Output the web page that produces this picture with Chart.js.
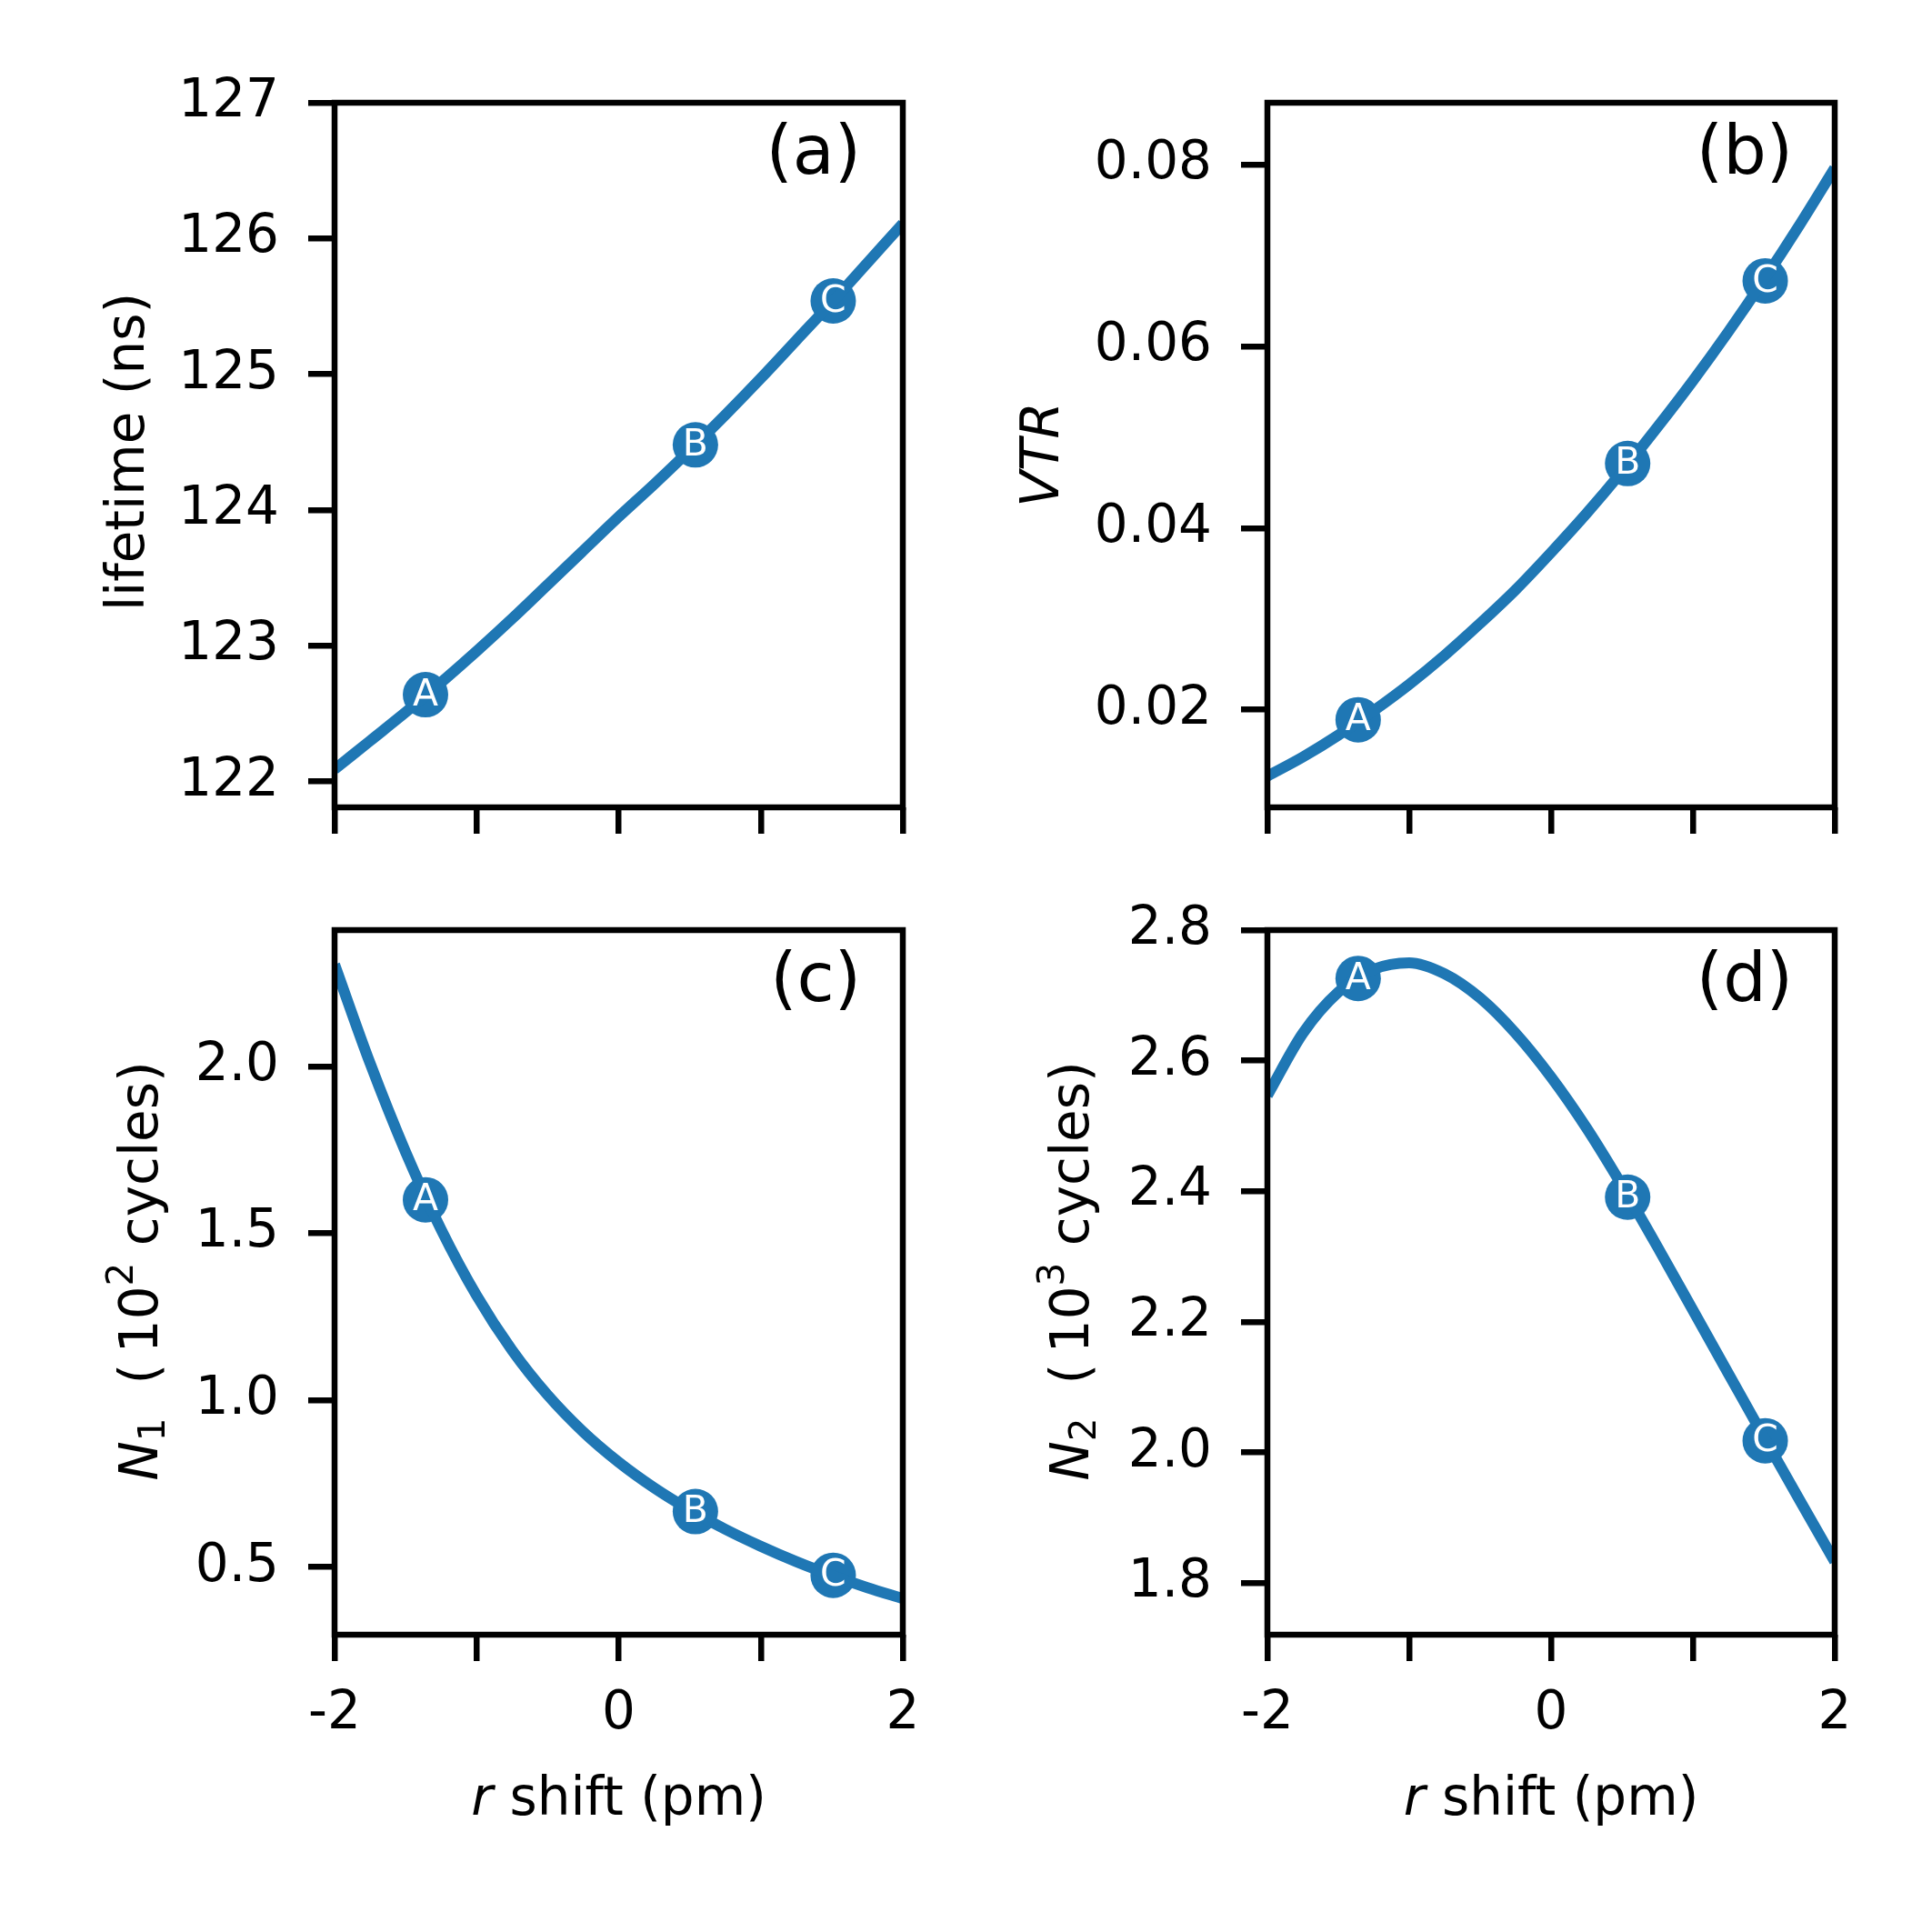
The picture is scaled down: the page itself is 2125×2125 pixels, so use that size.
<!DOCTYPE html>
<html>
<head>
<meta charset="utf-8">
<script src="https://cdn.jsdelivr.net/npm/chart.js@4.4.1/dist/chart.umd.min.js"></script>
<style>
  html, body { margin: 0; padding: 0; background: #fff; }
  #wrap { position: relative; width: 2125px; height: 2125px; }
  #wrap canvas { position: absolute; left: 0; top: 0; }
</style>
</head>
<body>
<div id="wrap">
  <canvas id="panelA" width="2125" height="2125"></canvas>
  <canvas id="panelB" width="2125" height="2125"></canvas>
  <canvas id="panelC" width="2125" height="2125"></canvas>
  <canvas id="panelD" width="2125" height="2125"></canvas>
</div>
<script>
// values
const rShift = [-2, -1.75, -1.5, -1.25, -1, -0.75, -0.5, -0.25, 0, 0.25, 0.5, 0.75, 1, 1.25, 1.5, 1.75, 2];
const lifetimeNs = [122.09, 122.30, 122.51, 122.73, 122.96, 123.20, 123.45, 123.70, 123.95, 124.19, 124.44, 124.70, 124.97, 125.25, 125.53, 125.82, 126.11];
const vtr = [0.0127, 0.0148, 0.0172, 0.0199, 0.0228, 0.0260, 0.0295, 0.0332, 0.0373, 0.0416, 0.0462, 0.0511, 0.0562, 0.0616, 0.0673, 0.0733, 0.0796];
const n1Cycles = [2.305, 2.009, 1.743, 1.511, 1.313, 1.149, 1.015, 0.905, 0.814, 0.737, 0.671, 0.613, 0.562, 0.516, 0.475, 0.438, 0.405];
const n2Cycles = [2.547, 2.642, 2.705, 2.740, 2.750, 2.733, 2.696, 2.642, 2.575, 2.497, 2.409, 2.315, 2.218, 2.121, 2.024, 1.928, 1.833];

// the three marked operating points
const markerNames = ['A', 'B', 'C'];
const markerShift = [-1.36, 0.54, 1.51];
const markerLifetime = [122.64, 124.48, 125.54];
const markerVtr = [0.0189, 0.0471, 0.0672];
const markerN1 = [1.600, 0.666, 0.475];
const markerN2 = [2.726, 2.391, 2.018];

// ticks
const xTicks = [-2, -1, 0, 1, 2];
const lifetimeTicks = [122, 123, 124, 125, 126, 127];
const vtrTicks = [0.02, 0.04, 0.06, 0.08];
const n1Ticks = [0.5, 1.0, 1.5, 2.0];
const n2Ticks = [1.8, 2.0, 2.2, 2.4, 2.6, 2.8];

const BLUE = '#1f77b4';
const FONT = '"DejaVu Sans"';
const SIZE = 58;
const Y_AXIS_W = 220, X_AXIS_H = 160;

Chart.defaults.font.family = 'DejaVu Sans';
Chart.defaults.font.size = SIZE;
Chart.defaults.color = '#000';

const PANELS = [
  { id: 'panelA', tag: '(a)', area: { left: 368, top: 113, right: 993, bottom: 888 },
    ys: lifetimeNs, marks: markerLifetime, yMin: 121.81, yMax: 127, yTicks: lifetimeTicks,
    yFmt: v => v.toFixed(0), xLabels: false,
    yTitle: [{ t: 'lifetime (ns)' }], titleX: 158, titleY: 497 },
  { id: 'panelB', tag: '(b)', area: { left: 1394, top: 113, right: 2018, bottom: 888 },
    ys: vtr, marks: markerVtr, yMin: 0.00926, yMax: 0.0868, yTicks: vtrTicks,
    yFmt: v => v.toFixed(2), xLabels: false,
    yTitle: [{ t: 'VTR', it: true }], titleX: 1164, titleY: 500 },
  { id: 'panelC', tag: '(c)', area: { left: 368, top: 1023, right: 993, bottom: 1798 },
    ys: n1Cycles, marks: markerN1, yMin: 0.297, yMax: 2.408, yTicks: n1Ticks,
    yFmt: v => v.toFixed(1), xLabels: true,
    yTitle: [{ t: 'N', it: true }, { t: '1', pos: 'sub' }, { t: '  (\u2009' }, { t: '10' }, { t: '2', pos: 'sup' }, { t: ' cycles)' }],
    titleX: 173, titleY: 1398 },
  { id: 'panelD', tag: '(d)', area: { left: 1394, top: 1023, right: 2018, bottom: 1798 },
    ys: n2Cycles, marks: markerN2, yMin: 1.721, yMax: 2.80, yTicks: n2Ticks,
    yFmt: v => v.toFixed(1), xLabels: true,
    yTitle: [{ t: 'N', it: true }, { t: '2', pos: 'sub' }, { t: '  (\u2009' }, { t: '10' }, { t: '3', pos: 'sup' }, { t: ' cycles)' }],
    titleX: 1197, titleY: 1398 }
];

// mixed italic / sub / superscript text, centred on the current origin
function drawRuns(ctx, runs, size) {
  const parts = runs.map(r => {
    const s = r.pos ? size * 0.7 : size;
    const font = (r.it ? 'italic ' : '') + s + 'px ' + FONT;
    ctx.font = font;
    const dy = r.pos === 'sub' ? size * 0.13 : (r.pos === 'sup' ? -size * 0.47 : 0);
    return { t: r.t, font, dy, w: ctx.measureText(r.t).width };
  });
  const total = parts.reduce((s, p) => s + p.w, 0);
  let x = -total / 2;
  ctx.textAlign = 'left';
  ctx.textBaseline = 'alphabetic';
  parts.forEach(p => { ctx.font = p.font; ctx.fillText(p.t, x, p.dy); x += p.w; });
}

const figureText = {
  id: 'figureText',
  afterDraw(chart) {
    const p = chart.options.plugins.figureText;
    const ctx = chart.ctx, a = chart.chartArea;
    ctx.save();

    // letters on the markers
    ctx.fillStyle = '#fff';
    ctx.font = '41px ' + FONT;
    ctx.textAlign = 'center';
    ctx.textBaseline = 'middle';
    chart.getDatasetMeta(1).data.forEach((pt, i) => ctx.fillText(markerNames[i], pt.x, pt.y + 1));

    // axes frame
    ctx.strokeStyle = '#000';
    ctx.lineWidth = 6.5;
    ctx.strokeRect(a.left, a.top, a.right - a.left, a.bottom - a.top);

    // panel tag
    ctx.fillStyle = '#000';
    ctx.font = '75px ' + FONT;
    ctx.textAlign = 'right';
    ctx.textBaseline = 'alphabetic';
    ctx.fillText(p.tag, a.right - 46, a.top + 78);

    // y title
    ctx.save();
    ctx.translate(p.titleX, p.titleY);
    ctx.rotate(-Math.PI / 2);
    drawRuns(ctx, p.yTitle, SIZE);
    ctx.restore();

    // x title (bottom row only)
    if (p.xLabels) {
      ctx.save();
      ctx.translate((a.left + a.right) / 2, 1996);
      drawRuns(ctx, [{ t: 'r', it: true }, { t: ' shift (pm)' }], SIZE);
      ctx.restore();
    }
    ctx.restore();
  }
};

const tickGrid = { drawOnChartArea: false, drawTicks: true, tickLength: 29, lineWidth: 6.5, color: '#000' };

PANELS.forEach(p => {
  new Chart(document.getElementById(p.id), {
    type: 'scatter',
    data: {
      datasets: [
        {
          data: rShift.map((x, i) => ({ x, y: p.ys[i] })),
          showLine: true,
          borderColor: BLUE,
          borderWidth: 12,
          borderJoinStyle: 'round',
          pointRadius: 0,
          cubicInterpolationMode: 'monotone',
          clip: 0
        },
        {
          data: markerShift.map((x, i) => ({ x, y: p.marks[i] })),
          showLine: false,
          pointRadius: 25,
          pointBackgroundColor: BLUE,
          pointBorderWidth: 0,
          clip: false
        }
      ]
    },
    options: {
      responsive: false,
      animation: false,
      events: [],
      layout: {
        autoPadding: false,
        padding: {
          left: p.area.left - Y_AXIS_W,
          top: p.area.top,
          right: 2125 - p.area.right,
          bottom: 2125 - p.area.bottom - X_AXIS_H
        }
      },
      plugins: {
        legend: { display: false },
        tooltip: { enabled: false },
        figureText: p
      },
      scales: {
        x: {
          type: 'linear', min: -2, max: 2,
          afterBuildTicks: s => { s.ticks = xTicks.map(v => ({ value: v })); },
          afterFit: s => { s.height = X_AXIS_H; s.paddingLeft = 0; s.paddingRight = 0; },
          grid: tickGrid,
          border: { display: false },
          ticks: {
            padding: 24, autoSkip: false, maxRotation: 0, minRotation: 0,
            font: { size: SIZE, lineHeight: 1.2 },
            callback: v => (p.xLabels && v % 2 === 0) ? String(v) : ''
          }
        },
        y: {
          type: 'linear', min: p.yMin, max: p.yMax,
          afterBuildTicks: s => { s.ticks = p.yTicks.map(v => ({ value: v })); },
          afterFit: s => { s.width = Y_AXIS_W; s.paddingTop = 0; s.paddingBottom = 0; },
          grid: tickGrid,
          border: { display: false },
          ticks: { padding: 32, autoSkip: false, font: { size: SIZE }, callback: p.yFmt }
        }
      }
    },
    plugins: [figureText]
  });
});
</script>
</body>
</html>
